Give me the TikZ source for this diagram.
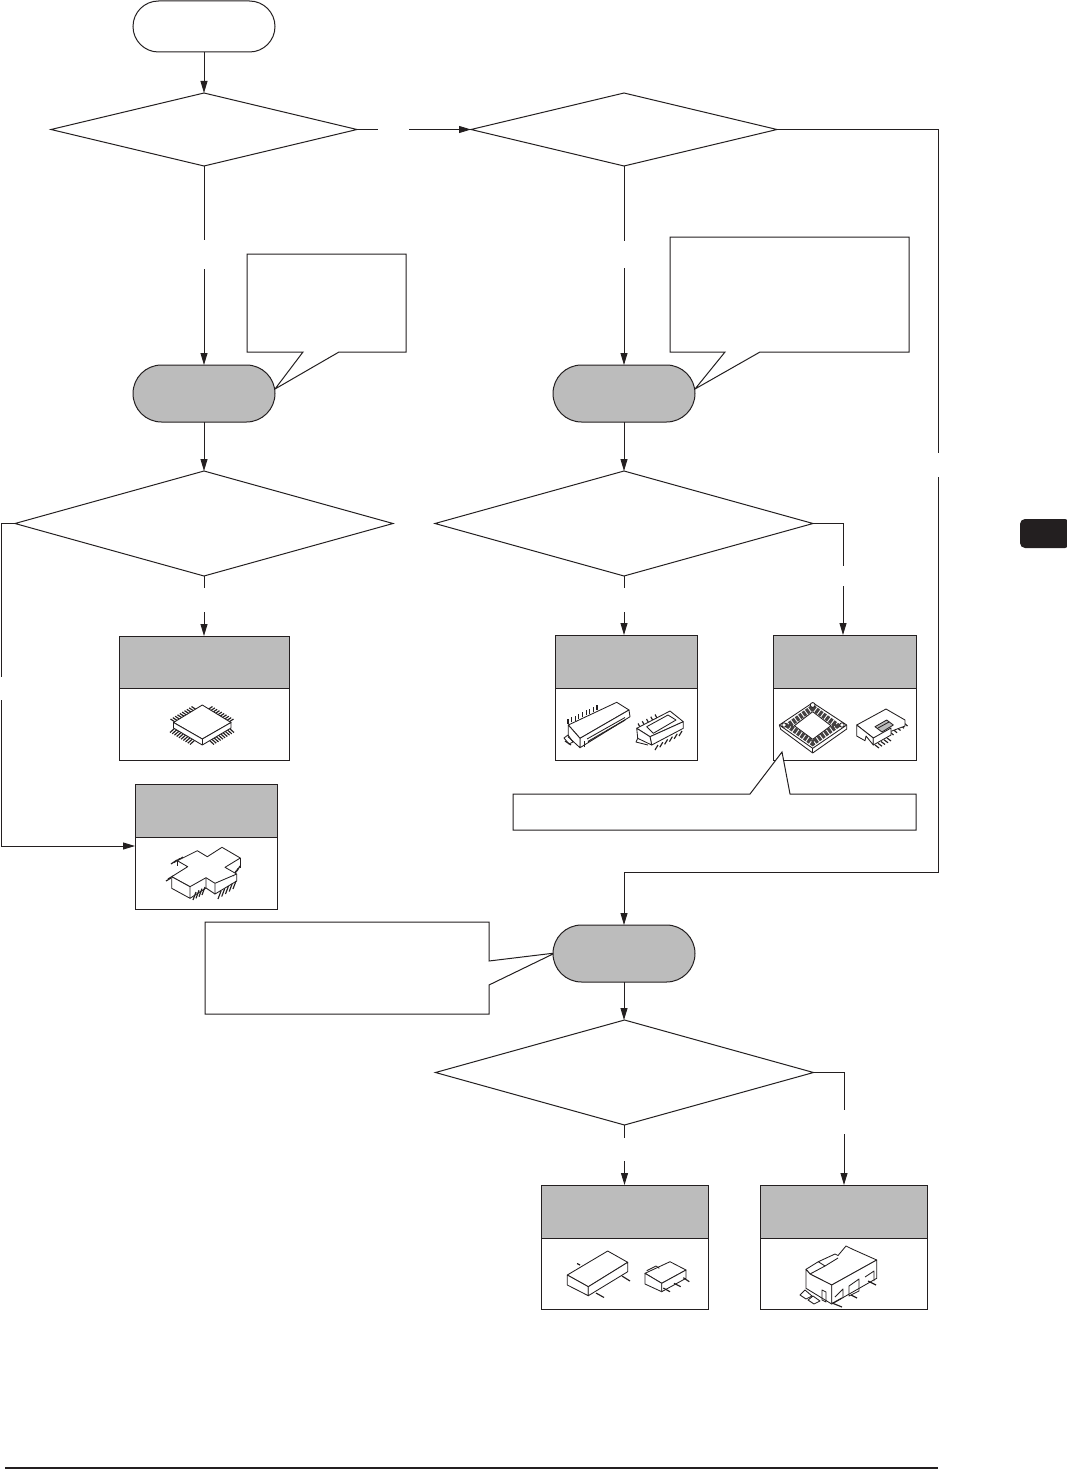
\documentclass[tikz,border=0pt]{standalone}
\usetikzlibrary{shapes.geometric,shapes.misc,arrows.meta}
\definecolor{ink}{HTML}{231F20}
\definecolor{panel}{HTML}{BCBCBC}
\tikzset{
  base/.style={draw=ink,line width=1pt,inner sep=0pt,outer sep=0pt},
  term/.style={base,rounded rectangle,minimum width=142pt},
  startterm/.style={term,minimum height=51pt,fill=white},
  greyterm/.style={term,minimum height=57pt,fill=panel},
  decision/.style={base,diamond,fill=white},
  hdr/.style={base,fill=panel,rectangle},
  bdy/.style={base,fill=white,rectangle},
  link/.style={draw=ink,line width=0.9pt},
  arrowlink/.style={link,-{Triangle[length=12pt,width=7pt]}},
  callout/.style={draw=ink,line width=1pt,fill=white,line join=miter},
  icon/.style={draw=ink,line width=0.85pt,line join=round},
  leads/.style={draw=ink,line width=1.15pt}
}
% leadrow: x1,y1,x2,y2,count-1,dx,dy
\newcommand{\leadrow}[7]{%
  \foreach \ii in {0,...,#5}{%
    \pgfmathsetmacro{\lx}{#1+(#3-#1)*\ii/#5}%
    \pgfmathsetmacro{\ly}{#2+(#4-#2)*\ii/#5}%
    \draw[leads] (\lx,\ly) -- ++(#6,#7);
  }%
}
\begin{document}
\begin{tikzpicture}[x=1pt,y=-1pt]
\useasboundingbox (0,0) rectangle (1066,1469);
\fill[white] (0,0) rectangle (1066,1469);

% callouts behind the flow nodes
\draw[callout] (247,254) -- (406,254) -- (406,352) -- (339,352) -- (275,389) -- (303,352) -- (247,352) -- cycle;
\draw[callout] (670,237) -- (909,237) -- (909,352) -- (760,352) -- (695,389) -- (725,352) -- (670,352) -- cycle;
\draw[callout] (205,922) -- (489,922) -- (489,961) -- (555,953) -- (489,985) -- (489,1014) -- (205,1014) -- cycle;

% flow nodes
\node[startterm] (start) at (204,26.5) {};
\node[decision,minimum width=306pt,minimum height=73pt] (d1) at (204,129.5) {};
\node[decision,minimum width=306pt,minimum height=73pt] (d2) at (624,129.5) {};
\node[greyterm] (t2) at (204,393.5) {};
\node[greyterm] (t3) at (624,393.5) {};
\node[greyterm] (t4) at (624,953.5) {};
\node[decision,minimum width=378pt,minimum height=105pt] (d3) at (204,523.5) {};
\node[decision,minimum width=378pt,minimum height=105pt] (d4) at (624,523.5) {};
\node[decision,minimum width=378pt,minimum height=105pt] (d5) at (624.5,1072.5) {};

% result boxes
\node[hdr,minimum width=170.5pt,minimum height=52.5pt] (b1h) at (204.25,662.25) {};
\node[bdy,minimum width=170.5pt,minimum height=71.5pt] (b1b) at (204.25,724.25) {};
\node[hdr,minimum width=142pt,minimum height=53pt] (b2h) at (206,810.5) {};
\node[bdy,minimum width=142pt,minimum height=72pt] (b2b) at (206,873) {};
\node[hdr,minimum width=142pt,minimum height=53pt] (b3h) at (626,661.5) {};
\node[bdy,minimum width=142pt,minimum height=72pt] (b3b) at (626,724) {};
\node[hdr,minimum width=143pt,minimum height=53pt] (b4h) at (844.5,661.5) {};
\node[bdy,minimum width=143pt,minimum height=72pt] (b4b) at (844.5,724) {};
\node[hdr,minimum width=167pt,minimum height=53pt] (b5h) at (624.5,1211.5) {};
\node[bdy,minimum width=167pt,minimum height=71pt] (b5b) at (624.5,1273.5) {};
\node[hdr,minimum width=167pt,minimum height=53pt] (b6h) at (843.5,1211.5) {};
\node[bdy,minimum width=167pt,minimum height=71pt] (b6b) at (843.5,1273.5) {};

% callout whose tip enters the socket box
\draw[callout] (513,794) -- (750,794) -- (782,752) -- (790,794) -- (916,794) -- (916,830) -- (513,830) -- cycle;

% free ends of connectors beside the gaps
\coordinate (a1) at (378,129.5);  \coordinate (a2) at (409,129.5);
\coordinate (b1) at (204,240);    \coordinate (b2) at (204,269);
\coordinate (c1) at (624,241);    \coordinate (c2) at (624,268);
\coordinate (e1) at (204,588);    \coordinate (e2) at (204,612);
\coordinate (f1) at (624,588);    \coordinate (f2) at (624,612);
\coordinate (g0) at (843,523.5);  \coordinate (g1) at (843,566);  \coordinate (g2) at (843,586);
\coordinate (h0) at (1,523.5);    \coordinate (h1) at (1,677);    \coordinate (h2) at (1,700);   \coordinate (h3) at (1,846);
\coordinate (i0) at (938,129.5);  \coordinate (i1) at (938,453);  \coordinate (i2) at (938,477); \coordinate (i3) at (938,872);
\coordinate (j1) at (624.5,1138); \coordinate (j2) at (624.5,1161);
\coordinate (k0) at (844,1072.5); \coordinate (k1) at (844,1110); \coordinate (k2) at (844,1134);

% connectors
\draw[arrowlink] (start.south) -- (d1.north);
\draw[link] (d1.east) -- (a1);
\draw[arrowlink] (a2) -- (d2.west);
\draw[link] (d1.south) -- (b1);
\draw[arrowlink] (b2) -- (t2.north);
\draw[link] (d2.south) -- (c1);
\draw[arrowlink] (c2) -- (t3.north);
\draw[arrowlink] (t2.south) -- (d3.north);
\draw[arrowlink] (t3.south) -- (d4.north);
\draw[link] (d3.south) -- (e1);
\draw[arrowlink] (e2) -- (e2 |- b1h.north);
\draw[link] (d4.south) -- (f1);
\draw[arrowlink] (f2) -- (f2 |- b3h.north);
\draw[link] (d4.east) -- (g0) -- (g1);
\draw[arrowlink] (g2) -- (g2 |- b4h.north);
\draw[link] (d3.west) -- (h0) -- (h1);
\draw[arrowlink] (h2) -- (h3) -- (h3 -| b2b.west);
\draw[link] (d2.east) -- (i0) -- (i1);
\draw[arrowlink] (i2) -- (i3) -- (i3 -| t4.north) -- (t4.north);
\draw[arrowlink] (t4.south) -- (t4.south |- d5.north);
\draw[link] (d5.south) -- (j1);
\draw[arrowlink] (j2) -- (j2 |- b5h.north);
\draw[link] (d5.east) -- (k0) -- (k1);
\draw[arrowlink] (k2) -- (k2 |- b6h.north);

% QFP icon
\leadrow{175}{722}{196}{709.5}{9}{-4.5}{-3}
\leadrow{229}{722}{208}{709.5}{9}{4.5}{-3}
\leadrow{175}{728}{195}{740}{9}{-5}{4.5}
\leadrow{229}{728}{209}{740}{9}{5}{4.5}
\draw[icon,fill=white] (202.3,705) -- (231,722.5) -- (202.3,739) -- (173.5,722.5) -- cycle;
\draw[icon,fill=white] (173.5,722.5) -- (173.5,728) -- (202.3,745) -- (231,728) -- (231,722.5) -- (202.3,739) -- cycle;
\draw[icon] (202.3,739) -- (202.3,745);

% cross icon
\leadrow{177}{860}{183}{857}{2}{-6}{4}
\leadrow{171}{878}{173}{876}{1}{-5}{3}
\leadrow{196}{892}{205}{887}{3}{-3}{8}
\leadrow{221}{891}{236}{881}{4}{-3}{8}
\leadrow{236}{871}{240}{866}{2}{-3}{5}
\draw[icon,fill=white] (197.3,850.7) -- (207.3,856.7) -- (222,847.3) -- (240.3,858) -- (225,867.3) -- (236.7,874) -- (215,883.3)
  -- (206,877.7) -- (190,886.7) -- (171.7,876.7) -- (187.7,866.7) -- (177.3,860.7) -- cycle;
\draw[icon,fill=white] (171.7,876.7) -- (171.7,888.3) -- (190,898.3) -- (190,886.7) -- cycle;
\draw[icon] (190,898.3) -- (206,888) -- (206,877.7);
\draw[icon] (215,883.3) -- (215,894) -- (236.7,881) -- (236.7,874);
\draw[icon] (206,888) -- (215,894);
\draw[icon] (240.3,858) -- (240.3,868);
\draw[icon] (177.3,860.7) -- (177.3,866);

% long connector icon
\leadrow{568}{724}{597}{710}{8}{0}{-5}
\draw[icon,fill=white] (568.3,725) -- (616.7,702.3) -- (629,710) -- (580,738.3) -- cycle;
\draw[icon,fill=white] (580,738.3) -- (629,710) -- (630,716.7) -- (580,747.7) -- cycle;
\draw[icon,fill=white] (568.3,725) -- (568.3,737) -- (580,747.7) -- (580,738.3) -- cycle;
\draw[icon] (584,747) -- (584,741);
\draw[draw=ink,line width=1.2pt,dash pattern=on 1pt off 0.4pt] (588,741.5) -- (625,720);
\draw[icon] (587,739) -- (625,717.5);
\draw[icon] (564,738) -- (568,735) -- (573,742) -- (569,744) -- cycle;
\draw[leads] (565,741) -- (571,745);

% small connector icon
\leadrow{640}{727}{657}{718}{4}{-2}{-3.5}
\leadrow{658}{745}{682}{731}{5}{-3}{5}
\draw[icon,fill=white] (636.7,728.3) -- (670,711) -- (683.3,721.7) -- (650,736.7) -- cycle;
\draw[icon,fill=white] (650,736.7) -- (683.3,721.7) -- (683.3,728.3) -- (651.7,745) -- cycle;
\draw[icon,fill=white] (636.7,728.3) -- (637.7,738.3) -- (651.7,745) -- (650,736.7) -- cycle;
\draw[icon] (646.7,726.7) -- (668,715) -- (676,720) -- (653.3,733.3) -- cycle;
\draw[icon] (637.7,738.3) -- (636,742) -- (648,745);

% socket icon
\draw[icon,fill=white] (812.7,702.7) -- (846.7,725) -- (846.7,729) -- (812.7,753) -- (780.7,729.3) -- (779.3,725) -- cycle;
\draw[icon] (779.3,725) -- (812.7,748.3) -- (846.7,725);
\draw[icon] (812.7,748.3) -- (812.7,753);
\draw[draw=ink!85,line width=5.5pt,dash pattern=on 3pt off 1.2pt] (812.7,707.5) -- (837,725.5) -- (812.7,743) -- (788,725.5) -- cycle;
\draw[icon,fill=white] (812.7,711.7) -- (831,725.7) -- (812.7,739.3) -- (794.3,725.7) -- cycle;
\draw[icon,fill=white] (812.7,705) circle (2.4pt);
\draw[icon,fill=white] (784,725) circle (2.2pt);
\draw[icon,fill=white] (842,725) circle (2.2pt);

% shrouded header icon
\leadrow{875}{745}{887}{738}{4}{4}{3}
\leadrow{890}{732}{904}{723}{4}{3.5}{3}
\draw[icon,fill=white] (856.7,725) -- (886,709) -- (905,720) -- (905,726) -- (873.3,738) -- cycle;
\draw[icon,fill=white] (856.7,725) -- (856.7,736) -- (865,740.7) -- (866,736) -- (873.3,745) -- (873.3,738) -- cycle;
\draw[icon,fill=white] (873.3,738) -- (873.3,745) -- (891,735) -- (891,728) -- cycle;
\draw[icon,fill=panel] (875,726.7) -- (886.7,720) -- (893.3,725) -- (882,732) -- cycle;
\draw[icon] (878,728) -- (889,722);

% SOT large icon
\draw[leads] (580,1265) -- (577,1263.5);
\draw[icon,fill=white] (567.3,1275) -- (607.7,1251) -- (627.7,1262.3) -- (588.3,1286.7) -- cycle;
\draw[icon,fill=white] (567.3,1275) -- (567.3,1285) -- (588.3,1295.7) -- (588.3,1286.7) -- cycle;
\draw[icon,fill=white] (588.3,1286.7) -- (627.7,1262.3) -- (627.7,1271.7) -- (588.3,1295.7) -- cycle;
\draw[leads] (596,1293) -- (604,1297.5);
\draw[leads] (622,1276) -- (630,1281);

% SOT small icon
\draw[icon,fill=white] (645,1273.3) -- (670,1261.7) -- (686,1270) -- (661.7,1283.3) -- cycle;
\draw[icon,fill=white] (645,1273.3) -- (645,1284) -- (661.7,1291.7) -- (661.7,1283.3) -- cycle;
\draw[icon,fill=white] (661.7,1283.3) -- (686,1270) -- (686,1278.3) -- (661.7,1291.7) -- cycle;
\draw[icon] (646.7,1270.7) -- (656,1266) -- (659.3,1268.3);
\draw[leads] (663.3,1288) -- (670,1291.7);
\draw[leads] (674,1283.3) -- (680.7,1286.7);
\draw[leads] (683.3,1277.7) -- (689.3,1281.7);

% switch icon
\draw[icon,fill=white] (818.3,1261.7) -- (835,1254) -- (838,1255.5) -- (846,1246) -- (852.7,1249.3) -- (876.7,1260) -- (831.7,1285) -- (810,1274) -- (806,1269.3) -- cycle;
\draw[icon] (818.3,1261.7) -- (825,1266) -- (838,1258);
\draw[icon] (810,1274) -- (825,1266);
\draw[icon,fill=white] (806,1269.3) -- (806,1288.3) -- (831.7,1304) -- (831.7,1285) -- (810,1274) -- cycle;
\draw[icon,fill=white] (831.7,1285) -- (831.7,1304) -- (876.7,1278.3) -- (876.7,1260) -- cycle;
\draw[icon] (835,1297) -- (843,1289) -- (843,1298);
\draw[icon] (849,1286) -- (859,1279) -- (859,1291) -- (849,1296) -- cycle;
\draw[icon] (865,1277) -- (874,1271) -- (874,1281);
\draw[leads] (842,1298) -- (833,1303);
\draw[icon] (805,1290) -- (812,1296) -- (806,1299) -- (800,1295) -- cycle;
\draw[icon] (813,1296) -- (820,1301) -- (814,1304) -- (808,1300) -- cycle;
\draw[icon] (822,1290) -- (822,1300) -- (826,1302) -- (826,1292) -- cycle;
\draw[leads] (832,1303) -- (842,1307);
\draw[leads] (851,1295) -- (857,1298);
\draw[leads] (868,1281) -- (876,1285);

% page tab and foot rule
\fill[ink,rounded corners=5pt] (1020,519) -- (1070,519) -- (1070,548) -- (1020,548) -- cycle;
\fill[ink] (5,1467) rectangle (938,1469);
\end{tikzpicture}
\end{document}
